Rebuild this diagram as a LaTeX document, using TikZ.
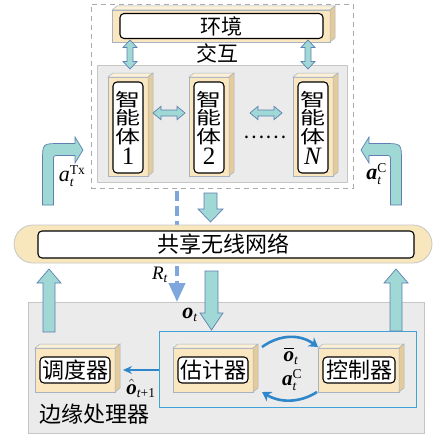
\documentclass[tikz,border=0pt]{standalone}
\usepackage{amsmath}
\usepackage{fontspec}
\setmainfont{Liberation Serif}
\newfontfamily\cjk{Noto Sans CJK SC}
\usetikzlibrary{arrows.meta,calc}
\definecolor{cream}{HTML}{FAE7BF}
\definecolor{creamtop}{HTML}{FCF0D6}
\definecolor{creamside}{HTML}{E4CB9C}
\definecolor{edgegray}{HTML}{A8B3C2}
\definecolor{tealfill}{HTML}{9FD8D4}
\definecolor{tealline}{HTML}{5E80B2}
\definecolor{boxgray}{HTML}{EBEBEB}
\definecolor{boxline}{HTML}{C6C6C6}
\definecolor{pillfill}{HTML}{F8E6BC}
\definecolor{bluebox}{HTML}{3FA3DA}
\definecolor{bluearr}{HTML}{2E87CB}
\definecolor{dashblue}{HTML}{7FA7DD}
\definecolor{dashgray}{HTML}{AAAAAA}
\newcommand\cubeblk[5]{%
  \node[blockfront, anchor=north west, minimum width=#4pt, minimum height=#5pt] (#1) at (#2,#3) {};
  \filldraw[cubetop] (#1.north west) -- ++(5,-4) -- ([shift={(5,-4)}]#1.north east) -- (#1.north east) -- cycle;
  \filldraw[cubeside] (#1.north east) -- ++(5,-4) -- ([shift={(5,-4)}]#1.south east) -- (#1.south east) -- cycle;}
\newcommand\vfat[6]{%
  \filldraw[fat] ({#1-#5},#2) -- ({#1-#5},#3) -- ({#1-#6},#3) -- (#1,#4) -- ({#1+#6},#3) -- ({#1+#5},#3) -- ({#1+#5},#2) -- cycle;}
\newcommand\vdbl[7]{%
  \filldraw[fat] (#1,#2) -- ({#1+#7},#3) -- ({#1+#6},#3) -- ({#1+#6},#4) -- ({#1+#7},#4) -- (#1,#5) -- ({#1-#7},#4) -- ({#1-#6},#4) -- ({#1-#6},#3) -- ({#1-#7},#3) -- cycle;}
\newcommand\hdbl[7]{%
  \filldraw[fat] (#2,#1) -- (#3,{#1-#7}) -- (#3,{#1-#6}) -- (#4,{#1-#6}) -- (#4,{#1-#7}) -- (#5,#1) -- (#4,{#1+#7}) -- (#4,{#1+#6}) -- (#3,{#1+#6}) -- (#3,{#1+#7}) -- cycle;}
\newcommand\agchars[1]{\scalebox{1}[0.72]{智}\\\scalebox{1}[0.72]{能}\\\scalebox{1}[0.72]{体}\\[3pt]{\rmfamily\fontsize{25}{18.5}\selectfont #1}}
\newcommand\ssize{\fontsize{13.5}{13.5}\selectfont}
\newcommand\labsub[2]{$#1_{\hbox{\ssize #2}}$}
\newcommand\labss[3]{$#1_{\hbox{\ssize #2}}^{\hbox{\ssize #3}}$}
\newcommand\bo{\hbox{\bfseries\itshape o}}
\newcommand\ba{\hbox{\bfseries\itshape a}}
\begin{document}
\begin{tikzpicture}[x=1pt,y=-1pt,
  blockfront/.style={rectangle, fill=cream, draw=edgegray, line width=0.5pt, inner sep=0pt, outer sep=0pt},
  cubetop/.style={fill=creamtop, draw=edgegray, line width=0.5pt},
  cubeside/.style={fill=creamside, draw=edgegray, line width=0.5pt},
  inbox/.style={rectangle, fill=white, draw=black, line width=1.1pt, rounded corners=4pt, inner sep=0pt},
  fat/.style={fill=tealfill, draw=tealline, line width=0.7pt, line join=miter},
  cjkt/.style={font=\cjk\fontsize{21}{24}\selectfont, inner sep=0pt},
  cjkb/.style={font=\cjk\fontsize{22}{24}\selectfont, inner sep=0pt},
  agtext/.style={align=center, font=\cjk\fontsize{25}{18.5}\selectfont, inner sep=0pt},
  mlbl/.style={font=\fontsize{22}{24}\selectfont, inner sep=0pt},
  slbl/.style={font=\fontsize{21}{22}\selectfont, inner sep=0pt},
  plainbox/.style={rectangle, anchor=north west, inner sep=0pt, outer sep=0pt},
  curvearr/.style={draw=bluearr, line width=2.6pt, -{Stealth[length=9pt,width=11pt]}},
]
\useasboundingbox (0,0) rectangle (434,436);

% ---- agent system ----
\node[plainbox, draw=dashgray, line width=0.8pt, dash pattern=on 5pt off 4pt, minimum width=262pt, minimum height=184pt] (sys) at (91,4) {};
\node[plainbox, fill=boxgray, draw=boxline, line width=0.8pt, minimum width=250pt, minimum height=117pt] (agents) at (97,65) {};

% environment
\cubeblk{envf}{112}{10}{218}{32}
\node[inbox, minimum width=203pt, minimum height=25pt] (env) at (221.5,26) {};
\node[cjkt] (envt) at (env) {环境};
\node[cjkt] (inter) at (217,53) {交互};
\vdbl{130}{40}{47.5}{61.5}{69}{3}{7}
\vdbl{308}{40}{47.5}{61.5}{69}{3}{7}

% agents
\cubeblk{a1f}{108}{77}{40}{99}
\node[inbox, minimum width=30pt, minimum height=91pt] (a1) at (128,127.5) {};
\node[agtext] (a1t) at (128,128) {\agchars{1}};
\cubeblk{a2f}{189}{77}{40}{99}
\node[inbox, minimum width=30pt, minimum height=91pt] (a2) at (209,127.5) {};
\node[agtext] (a2t) at (209,128) {\agchars{2}};
\cubeblk{anf}{293}{77}{40}{99}
\node[inbox, minimum width=30pt, minimum height=91pt] (an) at (313,127.5) {};
\node[agtext] (ant) at (313,128) {\agchars{\textit{N}}};
\hdbl{113}{153}{161}{177}{185}{3}{6.7}
\hdbl{113}{250}{258}{274}{282}{3}{6.7}
\node[font=\cjk\fontsize{20}{20}\selectfont, inner sep=0pt] (dots) at (265,137) {……};

% side bent arrows
\filldraw[fat] (42.5,205) -- (42.5,161) .. controls (42.5,143.5) .. (60,143.5) -- (75,143.5) -- (75,137) -- (83,150) -- (75,163) -- (75,155.5) -- (59,155.5) .. controls (53.5,155.5) .. (53.5,161) -- (53.5,205) -- cycle;
\filldraw[fat] (401.5,205) -- (401.5,161) .. controls (401.5,143.5) .. (384,143.5) -- (369,143.5) -- (369,137) -- (361,150) -- (369,163) -- (369,155.5) -- (385,155.5) .. controls (390.5,155.5) .. (390.5,161) -- (390.5,205) -- cycle;
\node[mlbl] (atx) at (72,176) {\labss{\hbox{\itshape a}}{\itshape t}{Tx}};
\node[mlbl] (ac1) at (376.5,174) {\labss{\ba}{\itshape t}{C}};

% dashed R_t arrow
\draw[dashblue, line width=4pt, dash pattern=on 10pt off 5pt, -{Triangle[length=19pt,width=16pt]}] (177,191) -- (177,302);

% down arrow to network
\vfat{210.5}{193}{209}{222}{6.5}{12.5}

% ---- network ----
\node[plainbox, fill=pillfill, draw=boxline, line width=0.8pt, rounded corners=19pt, minimum width=418pt, minimum height=38pt] (netp) at (14,225) {};
\node[plainbox, fill=white, draw=black, line width=1.1pt, rounded corners=4pt, minimum width=376pt, minimum height=27pt] (net) at (38,231) {};
\node[cjkb] (nett) at (223,244.5) {共享无线网络};
\node[font=\fontsize{19}{20}\selectfont, inner sep=0pt] (rt) at (160,275) {\labsub{\hbox{\itshape R}}{\itshape t}};

% ---- edge processor ----
\node[plainbox, fill=boxgray, draw=boxline, line width=0.8pt, minimum width=396pt, minimum height=131pt] (edge) at (28,302) {};
\node[plainbox, draw=bluebox, line width=1pt, minimum width=257pt, minimum height=76pt] (proc) at (159,331) {};
\node[cjkb] (edget) at (94,414) {边缘处理器};

\vfat{49}{332}{283}{269}{6}{12}
\vfat{396}{331}{283}{269}{6}{12}
\vfat{211.5}{271}{313}{330}{6.5}{11.5}
\node[mlbl] (ot) at (190,315) {\labsub{\bo}{\itshape t}};

\cubeblk{schf}{35}{348}{80}{44}
\node[inbox, minimum width=70pt, minimum height=26pt] (sch) at (75,370) {};
\node[cjkb] (scht) at (sch) {调度器};
\cubeblk{estf}{173}{348}{80}{44}
\node[inbox, minimum width=70pt, minimum height=26pt] (est) at (213,370) {};
\node[cjkb] (estt) at (est) {估计器};
\cubeblk{ctlf}{318}{348}{81}{44}
\node[inbox, minimum width=72pt, minimum height=26pt] (ctl) at (359,370) {};
\node[cjkb] (ctlt) at (ctl) {控制器};

\draw[bluearr, line width=1.2pt, -{Stealth[length=9pt,width=8pt]}] (proc.west |- sch) -- ([xshift=8pt]schf.east);
\node[slbl] (ohat) at (141,388.5) {\labsub{\hat{\bo}}{{\itshape t}+1}};

\coordinate (c1) at (262,347);
\coordinate (c2) at (318,347);
\coordinate (c3) at (317,392);
\coordinate (c4) at (262,392);
\draw[curvearr] (c1) .. controls (280,334) and (300,334) .. (c2);
\draw[curvearr] (c3) .. controls (300,403) and (280,403) .. (c4);
\node[slbl] (obar) at (291,356) {\labsub{\overline{\bo}}{\itshape t}};
\node[slbl] (ac2) at (292,380) {\labss{\ba}{\itshape t}{C}};
\end{tikzpicture}
\end{document}
